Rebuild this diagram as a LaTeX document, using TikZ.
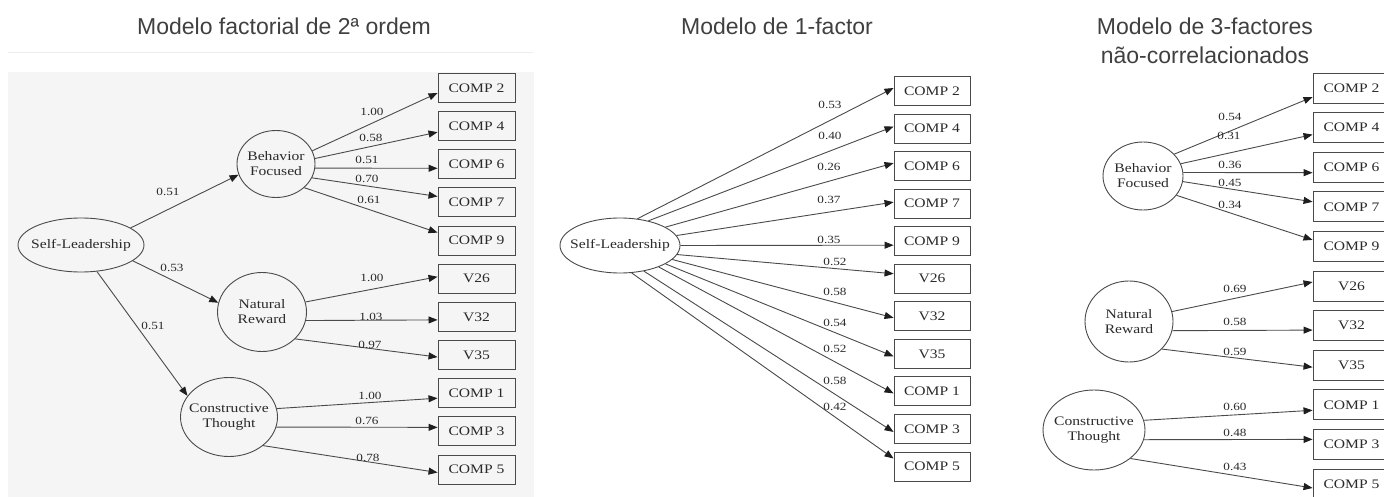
\documentclass[tikz,border=0pt]{standalone}
\usepackage{fontspec}
\setmainfont{Liberation Sans}
\newfontfamily\diagfont[FakeStretch=1.2]{Liberation Serif}
\usetikzlibrary{shapes.geometric,arrows.meta}
\definecolor{linec}{HTML}{4A4A4A}
\definecolor{tipc}{HTML}{1E1E1E}
\definecolor{txtc}{HTML}{2A2A2A}
\definecolor{headc}{HTML}{404040}
\definecolor{panelbg}{HTML}{F5F5F5}
\tikzset{
  latent/.style={ellipse, draw=linec, line width=0.9pt, inner sep=0pt},
  ltxt/.style={font=\diagfont\fontsize{13}{15}\selectfont, text=txtc, align=center, inner sep=0pt},
  obs/.style={rectangle, draw=linec, line width=0.9pt, minimum width=77pt,
    minimum height=29pt, inner sep=0pt, font=\diagfont\fontsize{13}{15}\selectfont, text=txtc},
  load/.style={draw=linec, line width=0.9pt, -{Triangle[length=9pt,width=7pt,color=tipc]}},
  lbl/.style={font=\diagfont\fontsize{11}{12}\selectfont, text=txtc, inner sep=0pt},
  heading/.style={font=\fontsize{23}{28}\selectfont, text=headc, anchor=base, inner sep=0pt}
}
\begin{document}
\begin{tikzpicture}[x=1pt,y=-1pt]
\clip (0,0) rectangle (1384,497);
\fill[white] (0,0) rectangle (1384,497);

% panel titles
\node[heading] (h1) at (284,35) {Modelo factorial de 2ª ordem};
\node[heading] (h2) at (777,35) {Modelo de 1-factor};
\node[heading] (h3a) at (1205,35) {Modelo de 3-factores};
\node[heading] (h3b) at (1205,64) {não-correlacionados};

% ---------- second-order model ----------
\fill[panelbg] (8,72) rectangle (534,497);
\draw[black!7, line width=0.6pt] (8,52) -- (533,52);

\node[latent, minimum width=126pt, minimum height=54pt] (SL1) at (81,245) {};
\node[ltxt] (SL1t) at (SL1) {Self-Leadership};
\node[latent, minimum width=78pt, minimum height=67pt] (BF1) at (276,164) {};
\node[ltxt] (BF1t) at (BF1) {Behavior\\Focused};
\node[latent, minimum width=89pt, minimum height=79pt] (NR1) at (262,312) {};
\node[ltxt] (NR1t) at (NR1) {Natural\\Reward};
\node[latent, minimum width=97pt, minimum height=79pt] (CT1) at (229,417) {};
\node[ltxt] (CT1t) at (CT1) {Constructive\\Thought};

\foreach \n/\t [count=\i from 0] in {2/COMP 2,4/COMP 4,6/COMP 6,7/COMP 7,9/COMP 9,26/V26,32/V32,35/V35,1/COMP 1,3/COMP 3,5/COMP 5}
  \node[obs] (L\n) at (476.5,88+\i*38.15) {\t};

\draw[load] (SL1.19) -- (BF1.196);
\draw[load] (SL1.-17) -- (NR1.168);
\draw[load] (SL1.-59) -- (CT1.153);

\draw[load] (BF1.20) -- ([yshift=-5pt]L2.west);
\draw[load] (BF1.8) -- ([yshift=-6pt]L4.west);
\draw[load] (BF1.-6) -- ([yshift=-4pt]L6.west);
\draw[load] (BF1.-21) -- ([yshift=6pt]L7.west);
\draw[load] (BF1.-40) -- ([yshift=8pt]L9.west);
\draw[load] (NR1.13) -- ([yshift=2pt]L26.west);
\draw[load] (NR1.-11) -- ([yshift=-3pt]L32.west);
\draw[load] (NR1.-39) -- ([yshift=-2pt]L35.west);
\draw[load] (CT1.10) -- ([yshift=-5pt]L1.west);
\draw[load] (CT1.-12) -- ([yshift=4pt]L3.west);
\draw[load] (CT1.-40) -- ([yshift=-3pt]L5.west);

\node[lbl] (a1) at (168,192) {0.51};
\node[lbl] (a2) at (172,268) {0.53};
\node[lbl] (a3) at (153,326) {0.51};
\node[lbl] (a4) at (372,112) {1.00};
\node[lbl] (a5) at (371,138) {0.58};
\node[lbl] (a6) at (367,160) {0.51};
\node[lbl] (a7) at (367,179) {0.70};
\node[lbl] (a8) at (369,200) {0.61};
\node[lbl] (a9) at (372,278) {1.00};
\node[lbl] (a10) at (371,317) {1.03};
\node[lbl] (a11) at (370,345) {0.97};
\node[lbl] (a12) at (370,396) {1.00};
\node[lbl] (a13) at (367,421) {0.76};
\node[lbl] (a14) at (368,458) {0.78};

% ---------- one-factor model ----------
\node[latent, minimum width=120pt, minimum height=55pt] (SL2) at (620,245.5) {};
\node[ltxt] (SL2t) at (SL2) {Self-Leadership};

\foreach \n/\t [count=\i from 0] in {2/COMP 2,4/COMP 4,6/COMP 6,7/COMP 7,9/COMP 9,26/V26,32/V32,35/V35,1/COMP 1,3/COMP 3,5/COMP 5}
  \node[obs, minimum width=76pt] (M\n) at (932,91+\i*37.55) {\t};

\draw[load] (SL2.57) -- ([yshift=3pt]M2.west);
\draw[load] (SL2.41) -- ([yshift=2pt]M4.west);
\draw[load] (SL2.22) -- ([yshift=3pt]M6.west);
\draw[load] (SL2.10) -- ([yshift=1.5pt]M7.west);
\draw[load] (SL2.0) -- ([yshift=-4pt]M9.west);
\draw[load] (SL2.-9) -- ([yshift=5pt]M26.west);
\draw[load] (SL2.-15) -- ([yshift=-1.5pt]M32.west);
\draw[load] (SL2.-22) -- ([yshift=-2.5pt]M35.west);
\draw[load] (SL2.-29) -- ([yshift=-2pt]M1.west);
\draw[load] (SL2.-47) -- ([yshift=-3pt]M3.west);
\draw[load] (SL2.-67) -- ([yshift=8pt]M5.west);

\node[lbl] (b1) at (830,105) {0.53};
\node[lbl] (b2) at (830,136) {0.40};
\node[lbl] (b3) at (829,167) {0.26};
\node[lbl] (b4) at (829,200) {0.37};
\node[lbl] (b5) at (829,240) {0.35};
\node[lbl] (b6) at (835,262) {0.52};
\node[lbl] (b7) at (835,292) {0.58};
\node[lbl] (b8) at (835,323) {0.54};
\node[lbl] (b9) at (835,349) {0.52};
\node[lbl] (b10) at (835,381) {0.58};
\node[lbl] (b11) at (835,407) {0.42};

% ---------- three uncorrelated factors ----------
\node[latent, minimum width=80pt, minimum height=68pt] (BF3) at (1143,176) {};
\node[ltxt] (BF3t) at (BF3) {Behavior\\Focused};
\node[latent, minimum width=88pt, minimum height=81pt] (NR3) at (1129,321.5) {};
\node[ltxt] (NR3t) at (NR3) {Natural\\Reward};
\node[latent, minimum width=102pt, minimum height=80pt] (CT3) at (1094,430) {};
\node[ltxt] (CT3t) at (CT3) {Constructive\\Thought};

\foreach \n/\t [count=\i from 0] in {2/COMP 2,4/COMP 4,6/COMP 6,7/COMP 7,9/COMP 9,26/V26,32/V32,35/V35,1/COMP 1,3/COMP 3,5/COMP 5}
  \node[obs, minimum height=30pt] (R\n) at (1351.5,88+\i*39.6) {\t};

\draw[load] (BF3.35) -- ([yshift=-9pt]R2.west);
\draw[load] (BF3.18) -- ([yshift=-7pt]R4.west);
\draw[load] (BF3.5) -- ([yshift=-5.5pt]R6.west);
\draw[load] (BF3.-8) -- ([yshift=5pt]R7.west);
\draw[load] (BF3.-30) -- ([yshift=6.5pt]R9.west);
\draw[load] (NR3.13) -- ([yshift=4pt]R26.west);
\draw[load] (NR3.-12) -- ([yshift=-4.5pt]R32.west);
\draw[load] (NR3.-40) -- ([yshift=-2pt]R35.west);
\draw[load] (CT3.11) -- ([yshift=-5.5pt]R1.west);
\draw[load] (CT3.-11) -- ([yshift=5pt]R3.west);
\draw[load] (CT3.-38) -- ([yshift=-4pt]R5.west);

\node[lbl] (c1) at (1230,117) {0.54};
\node[lbl] (c2) at (1229,136) {0.31};
\node[lbl] (c3) at (1230,165) {0.36};
\node[lbl] (c4) at (1230,183) {0.45};
\node[lbl] (c5) at (1230,205) {0.34};
\node[lbl] (c6) at (1235,289) {0.69};
\node[lbl] (c7) at (1235,322) {0.58};
\node[lbl] (c8) at (1235,352) {0.59};
\node[lbl] (c9) at (1235,407) {0.60};
\node[lbl] (c10) at (1235,433) {0.48};
\node[lbl] (c11) at (1235,467) {0.43};
\end{tikzpicture}
\end{document}
